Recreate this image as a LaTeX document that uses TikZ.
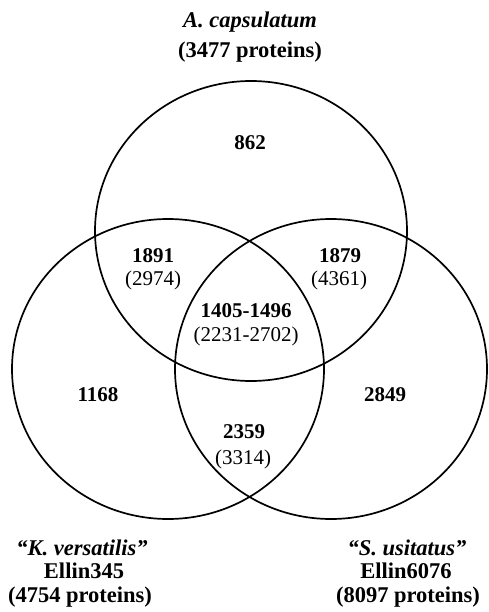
\documentclass[tikz,border=0pt]{standalone}
\usepackage{fontspec}
\setmainfont{Liberation Serif}
\begin{document}
\begin{tikzpicture}[x=1pt,y=-1pt,
  circ/.style={draw=black,line width=1.7pt},
  num/.style={anchor=base,inner sep=0pt,font=\fontsize{21}{24}\selectfont\bfseries},
  sub/.style={anchor=base,inner sep=0pt,font=\fontsize{21}{24}\selectfont},
  ttl/.style={anchor=base,inner sep=0pt,font=\fontsize{22.5}{24}\selectfont\bfseries}]
\useasboundingbox (0,0) rectangle (488,612);
\draw[circ] (251,231) ellipse [x radius=156pt, y radius=150pt];
\draw[circ] (168,369) ellipse [x radius=156pt, y radius=150pt];
\draw[circ] (331,369) ellipse [x radius=156pt, y radius=150pt];
% titles
\node[ttl] (ta) at (250,28) {\itshape A. capsulatum};
\node[ttl] (tb) at (250,58) {(3477 proteins)};
\node[ttl] (ka) at (82,555) {\itshape “K. versatilis”};
\node[ttl] (kb) at (84,578) {Ellin345};
\node[ttl] (kc) at (80,602) {(4754 proteins)};
\node[ttl] (sa) at (407,555) {\itshape “S. usitatus”};
\node[ttl] (sb) at (406,578) {Ellin6076};
\node[ttl] (sc) at (408,602) {(8097 proteins)};
% numbers
\node[num] (n862) at (250,150) {862};
\node[num] (n1891) at (153,262) {1891};
\node[sub] (p2974) at (153,285) {(2974)};
\node[num] (n1879) at (340,262) {1879};
\node[sub] (p4361) at (339,285) {(4361)};
\node[num] (n1405) at (246,317) {1405-1496};
\node[sub] (p2231) at (246,341) {(2231-2702)};
\node[num] (n1168) at (98,401) {1168};
\node[num] (n2849) at (385,401) {2849};
\node[num] (n2359) at (244,438) {2359};
\node[sub] (p3314) at (243,464) {(3314)};
\end{tikzpicture}
\end{document}
